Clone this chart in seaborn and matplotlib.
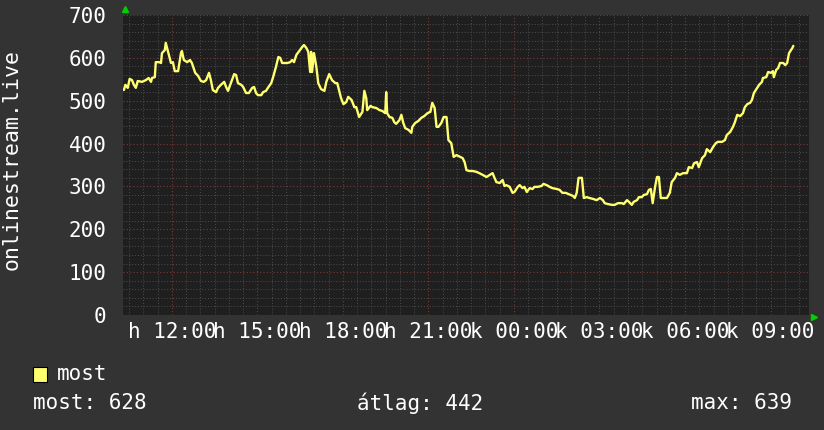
import matplotlib
matplotlib.use("Agg")
import matplotlib.pyplot as plt
import seaborn as sns
import pandas as pd

# minutes relative to Monday 12:00
minutes = [-101, -98, -93, -89, -84, -80, -76, -72, -63, -55, -49, -44, -42, -36, -34, -27,
           -23, -21, -15, -13, -8, -2, 2, 6, 13, 19, 21, 25, 32, 38, 42, 49, 55, 61, 67, 72,
           78, 82, 86, 93, 97, 103, 110, 114, 118, 124, 131, 135, 139, 146, 150, 156, 162,
           169, 173, 177, 181, 188, 192, 198, 202, 209, 213, 219, 224, 228, 232, 236, 243,
           249, 253, 257, 262, 268, 274, 278, 283, 287, 291, 293, 295, 299, 304, 308, 314,
           321, 325, 331, 337, 344, 348, 356, 361, 367, 371, 378, 384, 388, 394, 401, 405,
           409, 411, 418, 422, 430, 437, 443, 449, 451, 453, 458, 464, 468, 472, 479, 483,
           487, 491, 498, 504, 506, 512, 519, 525, 531, 538, 544, 548, 553, 557, 561, 567,
           572, 578, 582, 588, 593, 599, 603, 612, 616, 620, 626, 633, 641, 647, 654, 662,
           669, 675, 679, 683, 690, 696, 700, 704, 711, 717, 721, 728, 732, 738, 742, 747,
           753, 759, 763, 770, 778, 782, 789, 795, 801, 810, 816, 822, 829, 835, 844, 848,
           852, 856, 863, 867, 873, 879, 886, 894, 901, 907, 911, 917, 926, 932, 939, 947,
           951, 958, 962, 968, 972, 979, 983, 989, 993, 1000, 1004, 1008, 1012, 1017, 1021,
           1025, 1029, 1036, 1042, 1048, 1052, 1059, 1063, 1069, 1076, 1084, 1088, 1095,
           1099, 1105, 1109, 1116, 1122, 1126, 1133, 1139, 1145, 1149, 1158, 1164, 1168,
           1175, 1181, 1185, 1190, 1196, 1202, 1206, 1211, 1217, 1221, 1225, 1232, 1236,
           1242, 1244, 1251, 1255, 1261, 1265, 1267, 1272, 1276, 1280, 1287, 1291, 1295,
           1299, 1306, 1308]
listeners = [525, 537, 530, 551, 548, 537, 530, 546, 544, 548, 553, 544, 553, 555, 590, 590,
             588, 611, 618, 635, 614, 588, 590, 569, 569, 611, 616, 595, 590, 595, 588, 565,
             558, 546, 544, 548, 565, 548, 525, 520, 530, 537, 544, 532, 523, 541, 562, 560,
             541, 537, 532, 518, 518, 530, 532, 518, 513, 513, 520, 523, 530, 541, 555, 579,
             602, 600, 588, 588, 588, 590, 595, 590, 607, 616, 625, 630, 623, 614, 567, 614,
             567, 611, 579, 541, 527, 523, 544, 562, 548, 541, 541, 506, 492, 497, 509, 502,
             485, 485, 462, 474, 523, 506, 478, 488, 485, 483, 478, 476, 471, 520, 471, 462,
             460, 450, 446, 455, 467, 448, 436, 432, 425, 439, 448, 453, 460, 464, 471, 474,
             495, 483, 439, 439, 448, 462, 462, 408, 401, 369, 373, 371, 366, 357, 338, 336,
             336, 334, 331, 327, 322, 327, 331, 320, 310, 308, 315, 301, 303, 299, 285, 287,
             299, 303, 296, 299, 287, 296, 294, 299, 299, 301, 306, 303, 299, 296, 294, 292,
             285, 285, 282, 278, 273, 285, 320, 320, 273, 275, 273, 271, 268, 273, 268, 261,
             259, 257, 257, 261, 261, 259, 268, 264, 257, 264, 268, 275, 275, 280, 282, 292,
             294, 261, 299, 322, 322, 273, 273, 273, 285, 310, 320, 331, 327, 331, 331, 345,
             343, 354, 357, 345, 366, 373, 387, 380, 392, 401, 404, 404, 408, 420, 427, 439,
             450, 467, 464, 471, 485, 492, 495, 502, 518, 530, 537, 544, 553, 555, 567, 565,
             569, 555, 572, 576, 588, 588, 583, 588, 611, 623, 628]

tick_minutes = [0, 180, 360, 540, 720, 900, 1080, 1260]
tick_labels = ["h 12:00", "h 15:00", "h 18:00", "h 21:00",
               "k 00:00", "k 03:00", "k 06:00", "k 09:00"]
y_ticks = [0, 100, 200, 300, 400, 500, 600, 700]

series_name = "most"
stat_now = 628
stat_avg = 442
stat_max = 639

BG = "#333333"
CANVAS = "#1f1f1f"
LINE = "#ffff70"
TXT = "#ffffff"

sns.set_style("dark", {"axes.facecolor": CANVAS, "figure.facecolor": BG})
plt.rcParams["font.family"] = ["DejaVu Sans Mono", "DejaVu Sans"]

df = pd.DataFrame({"t": minutes, "v": listeners})

fig = plt.figure(figsize=(8.24, 4.30), dpi=100)
ax = fig.add_axes([123 / 824, 115 / 430, 686 / 824, 300 / 430])

sns.lineplot(data=df, x="t", y="v", ax=ax, color=LINE, linewidth=1.7, zorder=5)

ax.set_xlim(-103, 1341)
ax.set_ylim(0, 700)

# grid: grey minor, red major
ax.set_xticks(tick_minutes)
ax.set_xticks(range(-90, 1341, 30), minor=True)
ax.set_yticks(y_ticks)
ax.set_yticks(range(0, 701, 20), minor=True)
ax.grid(which="minor", color="#4e4e4e", linestyle=(0, (1, 2)), linewidth=0.7)
ax.grid(which="major", color="#7a3838", linestyle=(0, (1, 2)), linewidth=0.8)
ax.set_axisbelow(True)

ax.tick_params(which="both", length=0, colors=TXT, labelsize=15)
ax.set_xticklabels([])
ax.set_yticklabels([str(v) for v in y_ticks])
ax.tick_params(axis="y", pad=12)
for m, lab in zip(tick_minutes, tick_labels):
    ax.text(m, -0.055, lab, transform=ax.get_xaxis_transform(), ha="center", va="center",
            color=TXT, fontsize=15)

ax.set_xlabel("")
ax.set_ylabel("onlinestream.live", color=TXT, fontsize=15.5)
ax.yaxis.set_label_coords(-0.148, 0.52)
for s in ax.spines.values():
    s.set_visible(False)

# rrdtool style axis arrows
ax.plot([0.003], [1.02], marker="^", color="#00d000", markersize=5,
        transform=ax.transAxes, clip_on=False)
ax.plot([1.007], [-0.005], marker=">", color="#00d000", markersize=5,
        transform=ax.transAxes, clip_on=False)

# legend and stats line
fig.patches.append(plt.Rectangle((33 / 824, 1 - 382 / 430), 14 / 824, 15 / 430,
                                 transform=fig.transFigure, facecolor=LINE,
                                 edgecolor="black", linewidth=0.8))
fig.text(57 / 824, 1 - 374 / 430, series_name, color=TXT, fontsize=15, va="center")
fig.text(33 / 824, 1 - 403 / 430, f"most: {stat_now}", color=TXT, fontsize=15, va="center")
fig.text(420 / 824, 1 - 403 / 430, f"átlag: {stat_avg}", color=TXT, fontsize=15,
         va="center", ha="center")
fig.text(792 / 824, 1 - 403 / 430, f"max: {stat_max}", color=TXT, fontsize=15,
         va="center", ha="right")

fig.savefig("out.png", dpi=100, facecolor=BG)
